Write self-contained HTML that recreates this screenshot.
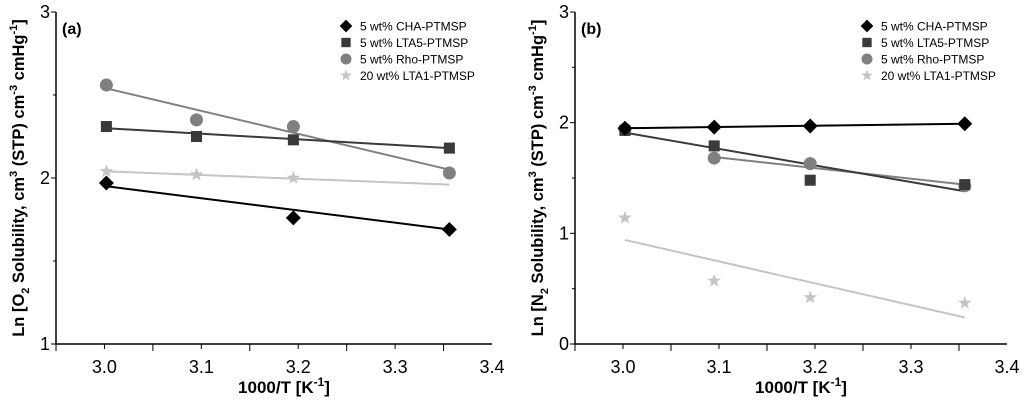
<!DOCTYPE html>
<html><head><meta charset="utf-8"><style>
body{margin:0;background:#fff;width:1024px;height:405px;overflow:hidden}
svg text{font-family:"Liberation Sans",Arial,sans-serif}
</style></head><body>
<svg id="c" width="1024" height="405"></svg>
<script>
const xs = [3.002, 3.095, 3.195, 3.356];
const seriesNames = ["5 wt% CHA-PTMSP","5 wt% LTA5-PTMSP","5 wt% Rho-PTMSP","20 wt% LTA1-PTMSP"];
const aCHA = [1.97, null, 1.76, 1.69];
const aLTA5 = [2.31, 2.25, 2.23, 2.18];
const aRho = [2.56, 2.35, 2.31, 2.03];
const aLTA1 = [2.04, 2.02, 2.00, null];
const aFitStart = [1.95, 2.30, 2.54, 2.04];
const aFitEnd = [1.69, 2.18, 2.05, 1.96];
const bCHA = [1.95, 1.96, 1.97, 1.99];
const bLTA5 = [1.93, 1.79, 1.48, 1.44];
const bRho = [1.94, 1.68, 1.63, 1.43];
const bLTA1 = [1.14, 0.57, 0.42, 0.37];
const bFitStartX = [3.002, 3.002, 3.095, 3.002];
const bFitStart = [1.95, 1.91, 1.69, 0.94];
const bFitEnd = [1.99, 1.38, 1.44, 0.24];
const xTicks = ["3.0","3.1","3.2","3.3","3.4"];
const aYTicks = [1,2,3];
const bYTicks = [0,1,2,3];

const NS="http://www.w3.org/2000/svg";
const svg=document.getElementById('c');
function mk(t,a,p){const e=document.createElementNS(NS,t);for(const k in a)e.setAttribute(k,a[k]);(p||svg).appendChild(e);return e;}
const colors=["#000","#3a3a3a","#808080","#c4c4c4"];

function marker(g,type,cx,cy,col,s){
  if(type===0){const r=s*1.15;return mk('polygon',{points:`${cx},${cy-r} ${cx+r},${cy} ${cx},${cy+r} ${cx-r},${cy}`,fill:col},g);}
  if(type===1)return mk('rect',{x:cx-s*0.85,y:cy-s*0.85,width:s*1.7,height:s*1.7,fill:col},g);
  if(type===2)return mk('circle',{cx:cx,cy:cy,r:s,fill:col},g);
  let p=[];for(let i=0;i<10;i++){const r=i%2?s*0.45:s*1.1;const a=-Math.PI/2+i*Math.PI/5;p.push((cx+r*Math.cos(a)).toFixed(1)+','+(cy+r*Math.sin(a)).toFixed(1));}
  return mk('polygon',{points:p.join(' '),fill:col},g);
}

function panel(o){
  const g=mk('g',{});
  
  
  const X=v=>o.L+(v-2.95)/(0.45)*(o.R-o.L);
  const Y=v=>o.B-(v-o.ymin)/(o.ymax-o.ymin)*(o.B-o.T);
  const ax=mk('path',{d:`M${o.L},${o.T}V${o.B}H${o.R}`,stroke:'#000','stroke-width':1.5,fill:'none'},g);
  
  for(let i=0;i<9;i++){const v=2.95+i*0.05;const x=X(v);mk('line',{x1:x,x2:x,y1:o.B,y2:o.B+(i%2?5:7),stroke:'#000','stroke-width':1},g);}
  xTicks.forEach(t=>{const tx=mk('text',{x:X(+t),y:o.B+29,'font-size':18,'text-anchor':'middle'},g);tx.textContent=t;});
  o.yt.forEach(t=>{const y=Y(t);mk('line',{x1:o.L,x2:o.L-5,y1:y,y2:y,stroke:'#000'},g);
    const tx=mk('text',{x:o.L-6,y:y+6,'font-size':18,'text-anchor':'end'},g);tx.textContent=t;});
  for(let v=o.ymin+0.5;v<o.ymax;v+=1){mk('line',{x1:o.L,x2:o.L-3,y1:Y(v),y2:Y(v),stroke:'#000'},g);}
  const xt=mk('text',{x:(o.L+o.R)/2+10,y:393,'font-size':17,'font-weight':'bold','text-anchor':'middle'},g);
  xt.innerHTML='1000/T [K<tspan dy="-7" font-size="12">-1</tspan><tspan dy="7">]</tspan>';
  
  const yt=mk('text',{transform:`translate(${o.L-32},${(o.T+o.B)/2}) rotate(-90)`,'font-size':16.5,'font-weight':'bold','text-anchor':'middle'},g);
  yt.innerHTML=`Ln [${o.gas}<tspan dy="5" font-size="11">2</tspan><tspan dy="-5"> Solubility, cm</tspan><tspan dy="-7" font-size="11">3</tspan><tspan dy="7"> (STP) cm</tspan><tspan dy="-7" font-size="11">-3</tspan><tspan dy="7"> cmHg</tspan><tspan dy="-7" font-size="11">-1</tspan><tspan dy="7">]</tspan>`;
  
  const lb=mk('text',{x:o.L+6,y:o.T+22,'font-size':16,'font-weight':'bold'},g);lb.textContent=o.label;
  
  for(let s=3;s>=0;s--){
    const x0=o.fitX0?o.fitX0[s]:xs[0];
    const ln=mk('line',{x1:X(x0),y1:Y(o.fs[s]),x2:X(xs[3]),y2:Y(o.fe[s]),stroke:colors[s],'stroke-width':2},g);
    
  }
  for(let s=3;s>=0;s--){o.data[s].forEach((v,i)=>{if(v==null)return;
    const m=marker(g,s,X(xs[i]),Y(v),colors[s],6.5);
    });}
  seriesNames.forEach((n,i)=>{const y=o.T+14+i*16.5;
    const m=marker(g,i,o.legX,y,colors[i],5.5);
    
    const t=mk('text',{x:o.legX+14,y:y+4.5,'font-size':12},g);t.textContent=n;
    });
}
panel({name:'panel-a-o2',L:56,R:492,T:12,B:344,ymin:1,ymax:3,yt:aYTicks,gas:'O',label:'(a)',legX:346,
  data:[aCHA,aLTA5,aRho,aLTA1],fs:aFitStart,fe:aFitEnd});
panel({name:'panel-b-n2',L:575,R:1007,T:12,B:344,ymin:0,ymax:3,yt:bYTicks,gas:'N',label:'(b)',legX:867,
  data:[bCHA,bLTA5,bRho,bLTA1],fs:bFitStart,fe:bFitEnd,fitX0:bFitStartX});
</script>
</body></html>
